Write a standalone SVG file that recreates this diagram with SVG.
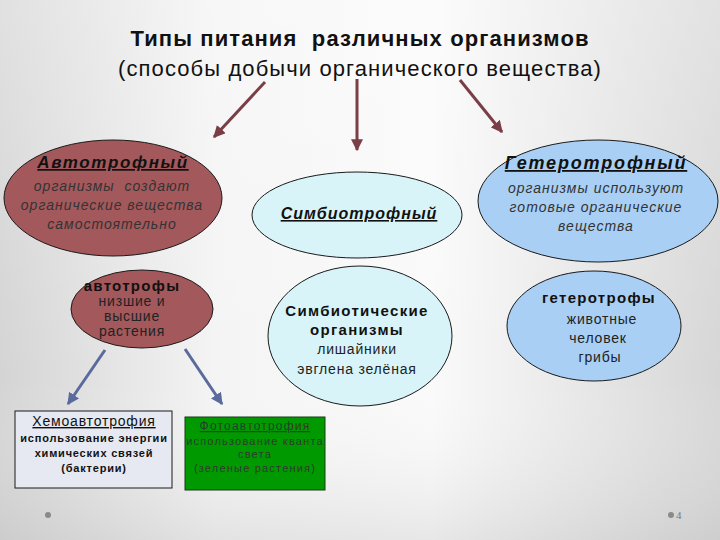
<svg xmlns="http://www.w3.org/2000/svg" width="720" height="540" viewBox="0 0 720 540">
<defs>
<linearGradient id="bgh" x1="0" y1="0" x2="1" y2="0">
<stop offset="0" stop-color="#d4d4d4"/>
<stop offset="0.3" stop-color="#f4f4f4"/>
<stop offset="0.6" stop-color="#fafafa"/>
<stop offset="1" stop-color="#d6d6d6"/>
</linearGradient>
<linearGradient id="bgv" x1="0" y1="0" x2="0" y2="1">
<stop offset="0" stop-color="#ffffff" stop-opacity="0.3"/>
<stop offset="0.7" stop-color="#ffffff" stop-opacity="0"/>
<stop offset="1" stop-color="#bbbbbb" stop-opacity="0.3"/>
</linearGradient>
<marker id="ahR" viewBox="0 0 10 10" refX="9" refY="5" markerWidth="4" markerHeight="4" orient="auto" markerUnits="strokeWidth">
<path d="M0,0 L10,5 L0,10 z" fill="#7a3f46"/>
</marker>
<marker id="ahB" viewBox="0 0 10 10" refX="9" refY="5" markerWidth="4" markerHeight="4" orient="auto" markerUnits="strokeWidth">
<path d="M0,0 L10,5 L0,10 z" fill="#5a6a9c"/>
</marker>
</defs>
<style>
.t{font-family:"Liberation Sans",Arial,sans-serif;text-anchor:middle}
.h{font-weight:bold;font-style:italic;text-decoration:underline;font-size:17px;fill:#111;letter-spacing:1.6px}
.i{font-style:italic;font-size:14px;fill:#333;letter-spacing:1px}
.b{font-weight:bold;font-size:15px;fill:#111;letter-spacing:1.3px}
.r{font-size:14px;fill:#222;letter-spacing:0.8px}
.sb{font-weight:bold;font-size:11px;fill:#111;letter-spacing:0.8px}
.p{font-size:11px;fill:#2c3a2c;letter-spacing:1.2px}
.ar{stroke:#7a3f46;stroke-width:3;fill:none;marker-end:url(#ahR)}
.ab{stroke:#5a6a9c;stroke-width:3;fill:none;marker-end:url(#ahB)}
.el{stroke:#1a1a1a;stroke-width:1}
</style>
<rect x="0" y="0" width="720" height="540" fill="url(#bgh)"/>
<rect x="0" y="0" width="720" height="540" fill="url(#bgv)"/>

<g id="title">
<text class="t" x="360" y="46" style="font-weight:bold;font-size:22px;fill:#111;letter-spacing:1.1px;white-space:pre">Типы питания  различных организмов</text>
<text class="t" x="360" y="76" style="font-size:22px;fill:#111;letter-spacing:1.1px">(способы добычи органического вещества)</text>
</g>

<g id="connectors">
<line class="ar" x1="265" y1="82" x2="214" y2="137"/>
<line class="ar" x1="357" y1="79" x2="357" y2="150"/>
<line class="ar" x1="460" y1="80" x2="502" y2="132"/>
<line class="ab" x1="105" y1="350" x2="68" y2="404"/>
<line class="ab" x1="185" y1="349" x2="222" y2="404"/>
</g>

<g id="autotroph">
<ellipse class="el" cx="113" cy="198" rx="109" ry="58" fill="#a3585b"/>
<text class="t h" x="113" y="168">Автотрофный</text>
<text class="t i" x="112" y="191" style="white-space:pre">организмы  создают</text>
<text class="t i" x="112" y="210">органические вещества</text>
<text class="t i" x="112" y="229">самостоятельно</text>
</g>

<g id="symbiotroph">
<ellipse class="el" cx="357" cy="215" rx="105" ry="43" fill="#d8f4f8"/>
<text class="t h" x="359" y="219" style="font-size:16px;letter-spacing:1px">Симбиотрофный</text>
</g>

<g id="heterotroph">
<ellipse class="el" cx="598" cy="201" rx="120" ry="61" fill="#a9cff4"/>
<text class="t h" x="596" y="169" style="font-size:18px;letter-spacing:1.8px">Гетеротрофный</text>
<text class="t i" x="596" y="193">организмы используют</text>
<text class="t i" x="596" y="212">готовые органические</text>
<text class="t i" x="596" y="231">вещества</text>
</g>

<g id="autotrophs">
<ellipse class="el" cx="142" cy="309" rx="71" ry="39" fill="#a3585b"/>
<text class="t b" x="132" y="291">автотрофы</text>
<text class="t r" x="132" y="306">низшие и</text>
<text class="t r" x="132" y="321">высшие</text>
<text class="t r" x="132" y="336">растения</text>
</g>

<g id="symbionts">
<ellipse class="el" cx="360" cy="336" rx="92" ry="70" fill="#d8f4f8"/>
<text class="t b" x="357" y="316">Симбиотические</text>
<text class="t b" x="357" y="335">организмы</text>
<text class="t r" x="357" y="354">лишайники</text>
<text class="t r" x="357" y="374">эвглена зелёная</text>
</g>

<g id="heterotrophs">
<ellipse class="el" cx="594" cy="326" rx="87" ry="55" fill="#a9cff4"/>
<text class="t b" x="599" y="303">гетеротрофы</text>
<text class="t r" x="602" y="324">животные</text>
<text class="t r" x="598" y="343">человек</text>
<text class="t r" x="600" y="362">грибы</text>
</g>

<g id="chemo">
<rect x="15" y="411" width="157" height="77" fill="#e6e9f2" stroke="#1a1a1a" stroke-width="1"/>
<text class="t" x="94" y="426" style="font-size:14px;text-decoration:underline;fill:#111;letter-spacing:0.8px">Хемоавтотрофия</text>
<text class="t sb" x="94" y="442">использование энергии</text>
<text class="t sb" x="94" y="457">химических связей</text>
<text class="t sb" x="94" y="472">(бактерии)</text>
</g>

<g id="photo">
<rect x="185" y="417" width="140" height="73" fill="#009a00" stroke="#1a3a1a" stroke-width="1"/>
<text class="t p" x="255" y="430" style="font-size:12px;text-decoration:underline">Фотоавтотрофия</text>
<text class="t p" x="255" y="445">использование кванта</text>
<text class="t p" x="255" y="458">света</text>
<text class="t p" x="255" y="472">(зеленые растения)</text>
</g>

<g id="footer">
<circle cx="48" cy="515" r="3" fill="#8a8a8a"/>
<circle cx="671" cy="515" r="3" fill="#8a8a8a"/>
<text x="676" y="519" style="font-family:'Liberation Serif',serif;font-size:11px;fill:#777">4</text>
</g>
</svg>
